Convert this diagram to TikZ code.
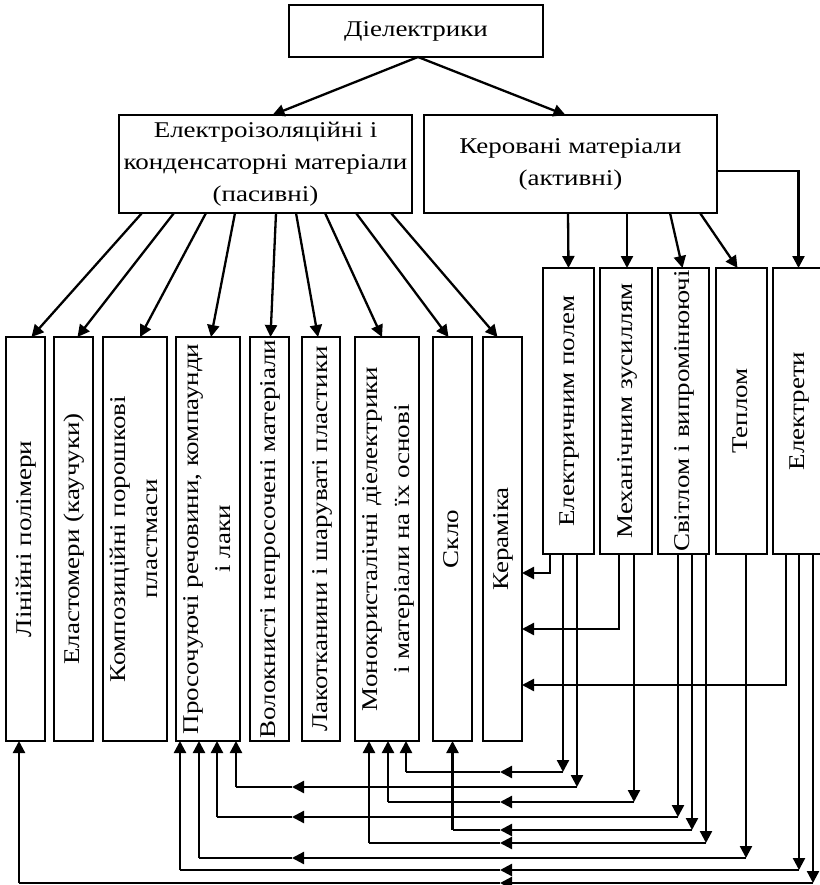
\documentclass[tikz,border=0pt]{standalone}
\usepackage{fontspec}
\setmainfont{Liberation Serif}[FakeStretch=1.2]
\usepackage{graphicx}
\usetikzlibrary{positioning,arrows.meta,calc}

\tikzset{
  blok/.style    = {draw, line width=2.8pt, align=center, inner sep=0pt, outer sep=0pt},
  stovp/.style   = {draw, line width=2.8pt, inner sep=0pt, outer sep=0pt,
                    minimum height=404pt},
  stovpk/.style  = {draw, line width=2.8pt, inner sep=0pt, outer sep=0pt,
                    minimum height=286pt},
  liniya/.style  = {line width=2.3pt},
  strilka/.style = {line width=2.3pt, -{Triangle[length=12pt,width=12pt]}}
}
\newcommand{\vtekst}[1]{\rotatebox{90}{\begin{tabular}{@{}c@{}}#1\end{tabular}}}

\begin{document}
\begin{tikzpicture}[x=1pt, y=1pt, font=\fontsize{22.5}{32}\selectfont]
    \useasboundingbox (0,0) rectangle (819,-885);

    % three upper levels
    \node[blok, minimum width=254pt, minimum height=52pt] (diel) at (416,-31) {Діелектрики};
    \node[blok, minimum width=293pt, minimum height=98pt] (pas) at (265.5,-164)
        {Електроізоляційні і\\конденсаторні матеріали\\(пасивні)};
    \node[blok, minimum width=293pt, minimum height=98pt, right=12pt of pas] (act)
        {Керовані матеріали\\(активні)};

    % passive materials
    \node[stovp, minimum width=39pt] (lin) at (25.5,-539) {\vtekst{Лінійні полімери}};
    \node[stovp, minimum width=39pt, right=9pt of lin] (ela) {\vtekst{Еластомери (каучуки)}};
    \node[stovp, minimum width=64pt, right=10pt of ela] (kom) {\vtekst{Композиційні порошкові\\пластмаси}};
    \node[stovp, minimum width=64pt, right=9pt of kom] (pro) {\vtekst{Просочуючі речовини, компаунди\\і лаки}};
    \node[stovp, minimum width=39pt, right=10pt of pro] (vol) {\vtekst{Волокнисті непросочені матеріали}};
    \node[stovp, minimum width=38pt, right=13pt of vol] (lak) {\vtekst{Лакотканини і шаруваті пластики}};
    \node[stovp, minimum width=64pt, right=15pt of lak] (mon) {\vtekst{Монокристалічні діелектрики\\і матеріали на їх основі}};
    \node[stovp, minimum width=39pt, right=14pt of mon] (skl) {\vtekst{Скло}};
    \node[stovp, minimum width=39pt, right=11pt of skl] (ker) {\vtekst{Кераміка}};

    % active materials
    \node[stovpk, minimum width=51pt] (pol) at (568.5,-411) {\vtekst{Електричним полем}};
    \node[stovpk, minimum width=52pt, right=6pt of pol] (mex) {\vtekst{Механічним зусиллям}};
    \node[stovpk, minimum width=51pt, right=6pt of mex] (svt) {\vtekst{Світлом і випромінюючі}};
    \node[stovpk, minimum width=51pt, right=7pt of svt] (tep) {\vtekst{Теплом}};
    \node[stovpk, minimum width=51pt, right=6pt of tep] (ele) {\vtekst{Електрети}};

    \draw[strilka] ([xshift=2]diel.south) -- ([xshift=7]pas.north);
    \draw[strilka] ([xshift=2]diel.south) -- ([xshift=-5]act.north);

    \draw[strilka] ([xshift=23]pas.south west) -- ([xshift=6]lin.north);
    \draw[strilka] ([xshift=55]pas.south west) -- ([xshift=4]ela.north);
    \draw[strilka] ([xshift=87]pas.south west) -- ([xshift=5]kom.north);
    \draw[strilka] ([xshift=116]pas.south west) -- ([xshift=3]pro.north);
    \draw[strilka] ([xshift=157]pas.south west) -- ([xshift=1]vol.north);
    \draw[strilka] ([xshift=177]pas.south west) -- ([xshift=-3]lak.north);
    \draw[strilka] ([xshift=206]pas.south west) -- ([xshift=-5]mon.north);
    \draw[strilka] ([xshift=237]pas.south west) -- ([xshift=-4]skl.north);
    \draw[strilka] ([xshift=272]pas.south west) -- ([xshift=-5]ker.north);

    \draw[strilka] ([xshift=144]act.south west) -- (pol.north);
    \draw[strilka] ([xshift=203]act.south west) -- ([xshift=1]mex.north);
    \draw[strilka] ([xshift=246]act.south west) -- ([xshift=-1]svt.north);
    \draw[strilka] ([xshift=276]act.south west) -- ([xshift=-4]tep.north);
    \draw[strilka] ([yshift=-7]act.east) -| (ele.north);

    % links back into Кераміка
    \draw[strilka] ([xshift=7]pol.south west) |- ([yshift=-34]ker.east);
    \draw[strilka] ([xshift=19]mex.south west) |- ([yshift=-90]ker.east);
    \draw[strilka] ([xshift=13]ele.south west) |- ([yshift=-146]ker.east);

    % levels of the lower bus
    \coordinate (r1) at (0,-772);
    \coordinate (r2) at (0,-787);
    \coordinate (r3) at (0,-802);
    \coordinate (r4) at (0,-817);
    \coordinate (r5) at (0,-830);
    \coordinate (r6) at (0,-843);
    \coordinate (r7) at (0,-858);
    \coordinate (r8) at (0,-870);
    \coordinate (r9) at (0,-883);
    \coordinate (ma) at (500,0);
    \coordinate (mb) at (292,0);

    \draw[liniya] ([xshift=20]pol.south west) coordinate (p) ([xshift=51]mon.south west) coordinate (q)
        (p) edge[strilka] (p |- r1)
        (p |- r1) edge[strilka] (ma |- r1)
        (ma |- r1) -- (q |- r1) edge[strilka] (q);
    \draw[liniya] ([xshift=34]pol.south west) coordinate (p) ([xshift=60]pro.south west) coordinate (q)
        (p) edge[strilka] (p |- r2)
        (p |- r2) edge[strilka] (mb |- r2)
        (mb |- r2) -- (q |- r2) edge[strilka] (q);
    \draw[liniya] ([xshift=34]mex.south west) coordinate (p) ([xshift=33]mon.south west) coordinate (q)
        (p) edge[strilka] (p |- r3)
        (p |- r3) edge[strilka] (ma |- r3)
        (ma |- r3) -- (q |- r3) edge[strilka] (q);
    \draw[liniya] ([xshift=20]svt.south west) coordinate (p) ([xshift=41]pro.south west) coordinate (q)
        (p) edge[strilka] (p |- r4)
        (p |- r4) edge[strilka] (mb |- r4)
        (mb |- r4) -- (q |- r4) edge[strilka] (q);
    \draw[liniya] ([xshift=34]svt.south west) coordinate (p) (skl.south) coordinate (q)
        (p) edge[strilka] (p |- r5)
        (p |- r5) edge[strilka] (ma |- r5)
        (ma |- r5) -- (q |- r5) edge[strilka] (q);
    \draw[liniya] ([xshift=48]svt.south west) coordinate (p) ([xshift=14]mon.south west) coordinate (q)
        (p) edge[strilka] (p |- r6)
        (p |- r6) edge[strilka] (ma |- r6)
        (ma |- r6) -- (q |- r6) edge[strilka] (q);
    \draw[liniya] ([xshift=30]tep.south west) coordinate (p) ([xshift=23]pro.south west) coordinate (q)
        (p) edge[strilka] (p |- r7)
        (p |- r7) edge[strilka] (mb |- r7)
        (mb |- r7) -- (q |- r7) edge[strilka] (q);
    \draw[liniya] ([xshift=26]ele.south west) coordinate (p) ([xshift=4]pro.south west) coordinate (q)
        (p) edge[strilka] (p |- r8)
        (p |- r8) edge[strilka] (ma |- r8)
        (ma |- r8) -- (q |- r8) edge[strilka] (q);
    \draw[liniya] ([xshift=40]ele.south west) coordinate (p) ([xshift=13]lin.south west) coordinate (q)
        (p) edge[strilka] (p |- r9)
        (p |- r9) edge[strilka] (ma |- r9)
        (ma |- r9) -- (q |- r9) edge[strilka] (q);
  \end{tikzpicture}
\end{document}
